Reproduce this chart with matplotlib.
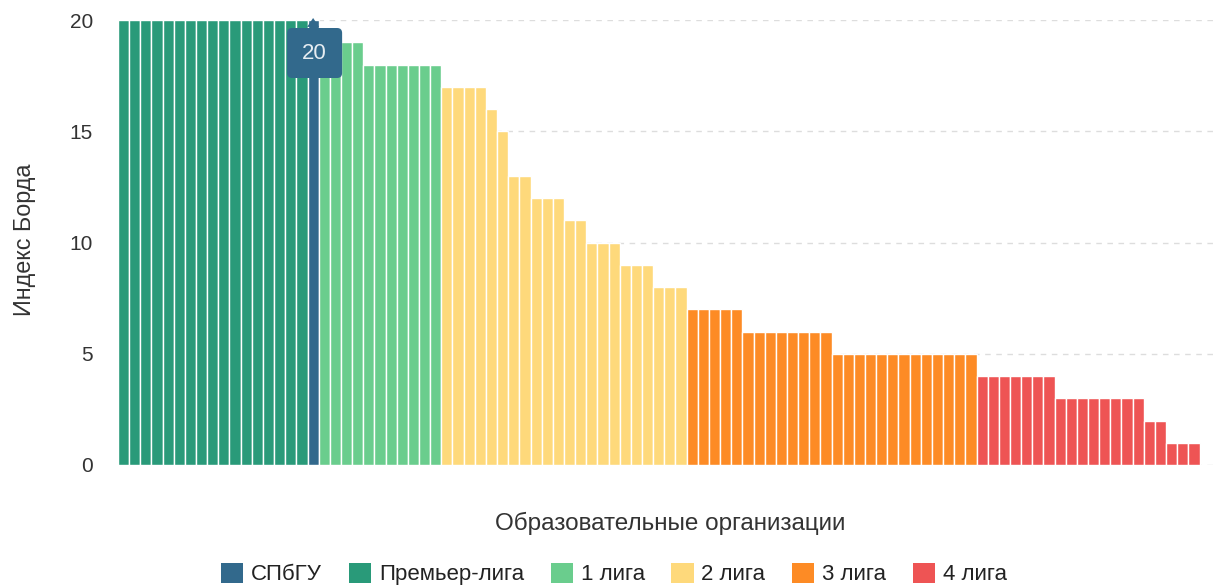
import matplotlib
matplotlib.use("Agg")
import matplotlib.pyplot as plt
from matplotlib.patches import Patch, FancyBboxPatch, Polygon

plt.rcParams['font.family'] = ['Liberation Sans', 'DejaVu Sans']

leagues = ["СПбГУ", "Премьер-лига", "1 лига", "2 лига", "3 лига", "4 лига"]
colors = ["#32698c", "#299a79", "#6acd8d", "#fed97b", "#fd8b25", "#ee5454"]

premier_vals = [20] * 17
spbgu_vals = [20]
league1_vals = [19] * 4 + [18] * 7
league2_vals = [17] * 4 + [16, 15] + [13] * 2 + [12] * 3 + [11] * 2 + [10] * 3 + [9] * 3 + [8] * 3
league3_vals = [7] * 5 + [6] * 8 + [5] * 13
league4_vals = [4] * 7 + [3] * 8 + [2] * 2 + [1] * 3

series = [premier_vals, spbgu_vals, league1_vals, league2_vals, league3_vals, league4_vals]
series_color_idx = [1, 0, 2, 3, 4, 5]

y_ticks = [0, 5, 10, 15, 20]
x_label = "Образовательные организации"
y_label = "Индекс Борда"
tooltip_value = 20

W, H = 1215, 585
ax_left, ax_right, ax_bottom, ax_top = 118, 1214, 465, 20

fig = plt.figure(figsize=(W / 100, H / 100), dpi=100)
ax = fig.add_axes([ax_left / W, (H - ax_bottom) / H, (ax_right - ax_left) / W, (ax_bottom - ax_top) / H])

pos = 0
spbgu_pos = None
for vals, ci in zip(series, series_color_idx):
    xs = list(range(pos, pos + len(vals)))
    ax.bar(xs, vals, width=1.0, color=colors[ci], edgecolor="white", linewidth=1.0, zorder=3)
    if ci == 0:
        spbgu_pos = xs[0]
    pos += len(vals)

xmin, xmax = -0.5, pos - 0.5 + 1.3
ax.set_xlim(xmin, xmax)
ax.set_ylim(0, 20)
ax.set_yticks(y_ticks)
ax.set_xticks([])
ax.yaxis.grid(True, linestyle=(0, (4, 4)), color="#dddddd", linewidth=1.0, zorder=0)
for s in ax.spines.values():
    s.set_visible(False)
ax.tick_params(axis="y", length=0, pad=18, labelsize=15, labelcolor="#333333")

fig.text(25 / W, 1 - 240 / H, y_label, rotation=90, ha="center", va="center",
         fontsize=16.8, color="#333333")
fig.text(670 / W, 1 - 523 / H, x_label, ha="center", va="center",
         fontsize=17.5, color="#333333")

handles = [Patch(facecolor=c, edgecolor="none") for c in colors]
fig.legend(handles, leagues, loc="center", bbox_to_anchor=(614 / W, 1 - 574 / H),
           ncol=6, frameon=False, fontsize=16, handlelength=1.0, handleheight=1.0,
           handletextpad=0.35, columnspacing=1.2, labelcolor="#222222",
           borderpad=0, borderaxespad=0)

# tooltip over SPbGU bar (sizes given in pixels, converted to data units)
px_x = (ax_right - ax_left) / (xmax - xmin)
px_y = (ax_bottom - ax_top) / 20.0
tx = spbgu_pos + 1.5 / px_x
box_w = 55 / px_x
box_top = tooltip_value - 8 / px_y
box_h = 50 / px_y
box = FancyBboxPatch((tx - box_w / 2, box_top - box_h), box_w, box_h,
                     boxstyle="round,pad=0,rounding_size=%f" % (5 / px_x),
                     mutation_aspect=px_x / px_y,
                     facecolor="#32698c", edgecolor="none", zorder=6, clip_on=False)
ax.add_patch(box)
tip_y = tooltip_value + 2 / px_y
tri = Polygon([[spbgu_pos - 6 / px_x, box_top + 0.05], [spbgu_pos + 6 / px_x, box_top + 0.05],
               [spbgu_pos, tip_y]],
              closed=True, facecolor="#32698c", edgecolor="none", zorder=6, clip_on=False)
ax.add_patch(tri)
ax.text(tx, box_top - box_h / 2, str(tooltip_value), ha="center", va="center",
        color="#e6edf2", fontsize=16, zorder=7)

fig.savefig("out.png", dpi=100)
